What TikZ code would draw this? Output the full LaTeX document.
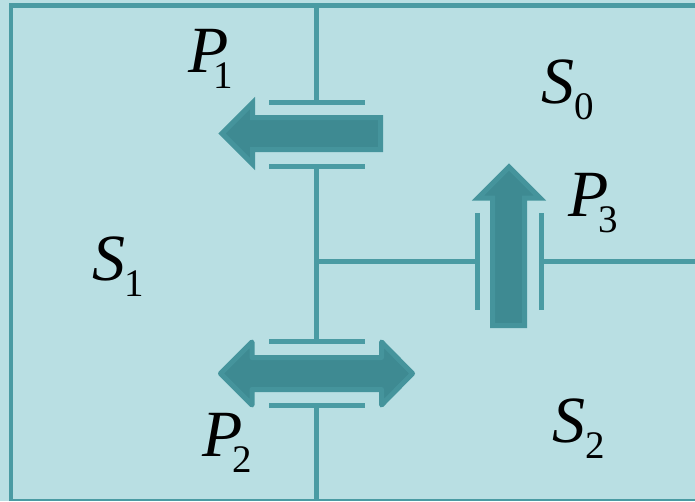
\documentclass[tikz,border=0pt]{standalone}
\usepackage{fontspec}
\setmainfont{Liberation Serif}
\definecolor{panel}{HTML}{B9DFE3}
\definecolor{wire}{HTML}{4A9BA3}
\definecolor{arrowfill}{HTML}{3E8A92}
\definecolor{arrowedge}{HTML}{45949C}
\newcommand{\lowdigit}[2]{\kern#1pt\raisebox{-16.3pt}{\fontsize{39}{39}\selectfont\upshape #2}}
\tikzset{
  wireline/.style={draw=wire,line width=4.8pt},
  plate/.style={draw=wire,line width=5pt},
  pump/.style={fill=arrowfill,draw=arrowedge,line width=5pt,line join=round},
  lab/.style={inner sep=0pt,anchor=base west,font=\fontsize{66}{66}\selectfont\itshape},
}
\begin{document}
\begin{tikzpicture}[x=1pt,y=-1pt]
\useasboundingbox (0,0) rectangle (695,501);
\fill[panel] (0,0) rectangle (695,501);
% frame
\coordinate (tl) at (11,5.5);
\coordinate (tr) at (695,5.5);
\coordinate (bl) at (11,501);
\coordinate (br) at (695,499.8);
\coordinate (bb) at (11,499.8);
\draw[wireline] (bl) -- (tl) -- (tr);
\draw[draw=wire,line width=2.5pt] (bb) -- (br);
% plates
\coordinate (p1a) at (269,102); \coordinate (p1b) at (365,102);
\coordinate (p1c) at (269,166); \coordinate (p1d) at (365,166);
\coordinate (p2a) at (269,341.5); \coordinate (p2b) at (365,341.5);
\coordinate (p2c) at (269,405.5); \coordinate (p2d) at (365,405.5);
\coordinate (p3a) at (477.5,213); \coordinate (p3b) at (477.5,310);
\coordinate (p3c) at (541.5,213); \coordinate (p3d) at (541.5,310);
\draw[plate] (p1a) -- (p1b);
\draw[plate] (p1c) -- (p1d);
\draw[plate] (p2a) -- (p2b);
\draw[plate] (p2c) -- (p2d);
\draw[plate] (p3a) -- (p3b);
\draw[plate] (p3c) -- (p3d);
% wires
\coordinate (w1) at (316.5,5.5);
\coordinate (w2) at (316.5,102);
\coordinate (w3) at (316.5,166);
\coordinate (w4) at (316.5,341.5);
\coordinate (w5) at (316.5,405.5);
\coordinate (w6) at (316.5,501);
\coordinate (j) at (316.5,261.5);
\coordinate (w7) at (477.5,261.5);
\coordinate (w8) at (541.5,261.5);
\coordinate (w9) at (695,261.5);
\draw[wireline] (w1) -- (w2);
\draw[wireline] (w3) -- (w4);
\draw[wireline] (w5) -- (w6);
\draw[wireline] (j) -- (w7);
\draw[wireline] (w8) -- (w9);
% pumps
\draw[pump,line join=miter] (380.5,117.5) -- (252.5,117.5) -- (252.5,103) -- (222,133.5) -- (252.5,164) -- (252.5,149.5) -- (380.5,149.5) -- cycle;
\draw[pump] (252,357.5) -- (252,342) -- (220.5,373.5) -- (252,405) -- (252,389.5) -- (381.5,389.5) -- (381.5,405) -- (412.5,373.5) -- (381.5,342) -- (381.5,357.5) -- cycle;
\draw[pump,line join=miter] (492.5,325.5) -- (492.5,198) -- (478,198) -- (509,167) -- (540,198) -- (524.5,198) -- (524.5,325.5) -- cycle;
% labels
\node[lab] (P1) at (188,72) {P\lowdigit{-15}{1}};
\node[lab] (S0) at (541,103.5) {S\lowdigit{0}{0}};
\node[lab] (P3) at (568,216) {P\lowdigit{-10}{3}};
\node[lab] (S1) at (92,280) {S\lowdigit{-1}{1}};
\node[lab] (P2) at (202,456) {P\lowdigit{-10}{2}};
\node[lab] (S2) at (552,442) {S\lowdigit{0}{2}};
\end{tikzpicture}
\end{document}
